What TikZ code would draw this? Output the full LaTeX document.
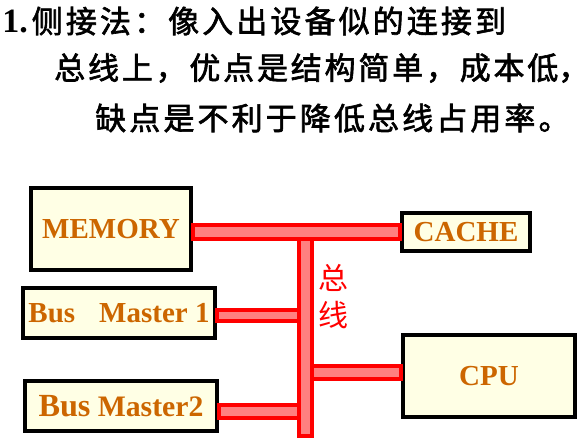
\documentclass[tikz,border=0pt]{standalone}
\usepackage{fontspec}
\setmainfont{Liberation Serif}
\newfontfamily\cjk[FakeBold=2,LetterSpace=10]{Noto Sans CJK SC}
\newfontfamily\cjklabel{Noto Sans CJK SC}
\usetikzlibrary{calc}
\definecolor{ccppqq}{rgb}{0.8,0.4,0.}
\definecolor{ffffee}{rgb}{1.,1.,0.9}
\definecolor{ffxxxx}{rgb}{1.,0.5,0.5}
\definecolor{ffqqqq}{rgb}{1.,0.,0.}
\tikzset{
  box/.style={draw=black,line width=3pt,fill=ffffee,inner sep=0pt,text=ccppqq,
    font=\bfseries\fontsize{21.75pt}{24pt}\selectfont},
  busbar/.style={draw=ffqqqq,fill=ffxxxx,line width=3pt},
  titleline/.style={anchor=west,inner sep=0pt,font=\cjk\fontsize{23.25pt}{26pt}\selectfont}
}

\begin{document}
\begin{tikzpicture}[line cap=butt,line join=miter,x=0.75pt,y=-0.75pt]
\useasboundingbox (0,0) rectangle (578,440);
% title
\node[titleline] (line1) at (2,21) {{\rmfamily\bfseries\fontsize{25.5pt}{26pt}\selectfont 1.}\hspace{3pt}侧接法：像入出设备似的连接到};
\node[titleline] (line2) at (54,68) {\addfontfeature{LetterSpace=9}总线上，优点是结构简单，成本低\makebox[6pt][l]{，}};
\node[titleline] (line3) at (95,118) {缺点是不利于降低总线占用率。};
% units on the bus
\node[box,minimum width=120pt,minimum height=61.5pt] (memory) at (111,229) {MEMORY};
\node[box,minimum width=144pt,minimum height=37.5pt] (master1) at (119,313) {Bus\hspace{18pt}Master 1};
\node[box,minimum width=144pt,minimum height=37.5pt] (master2) at (121,406) {{\fontsize{24.2pt}{24pt}\selectfont Bus} {\fontsize{22.3pt}{24pt}\selectfont Master2}};
\node[box,minimum width=96pt,minimum height=28.5pt] (cache) at (466,232) {CACHE};
\node[box,minimum width=129pt,minimum height=61.5pt] (cpu) at (489,376) {CPU};
% bus
\coordinate (spinetop) at (299,239);
\coordinate (spinebot) at (312,436);
\draw[busbar] (master1.east |- 0,310) rectangle (spinetop |- 0,321);
\draw[busbar] (master2.east |- 0,405) rectangle (spinetop |- 0,418);
\draw[busbar] (spinebot |- 0,366) rectangle (cpu.west |- 0,379);
\draw[busbar] (spinetop) rectangle (spinebot);
\draw[busbar] (memory.east |- 0,225) rectangle (cache.west |- 0,239);
\node[text=ffqqqq,align=center,font=\cjklabel\fontsize{22.5pt}{27.75pt}\selectfont] (buslabel) at (333.5,297) {总\\线};
\end{tikzpicture}
\end{document}
